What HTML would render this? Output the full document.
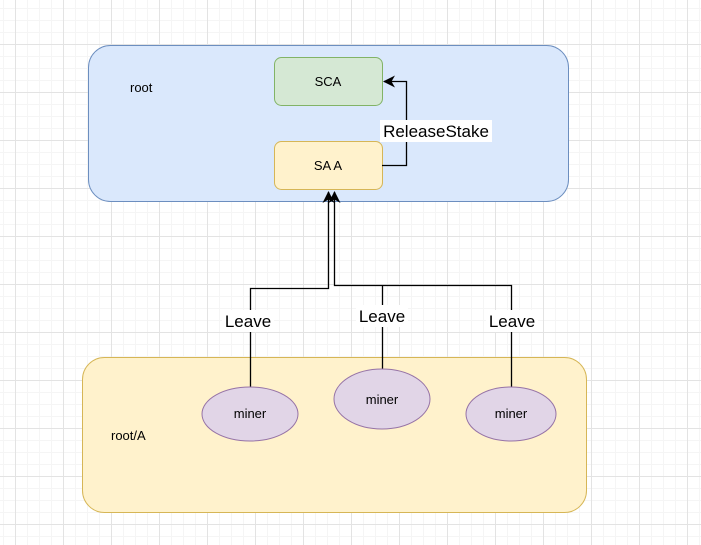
<!DOCTYPE html>
<html><head><style>html,body{margin:0;padding:0;background:#fff}svg{display:block}</style></head>
<body>
<svg width="701" height="545" viewBox="0 0 701 545" xmlns="http://www.w3.org/2000/svg" font-family="Liberation Sans, Arial, sans-serif">
<defs>
<pattern id="minor" width="12" height="12" patternUnits="userSpaceOnUse" x="3" y="8">
<path d="M0 0.5H12M0.5 0V12" stroke="#f5f5f5" stroke-width="1" fill="none"/>
</pattern>
<pattern id="major" width="48" height="48" patternUnits="userSpaceOnUse" x="15" y="44">
<path d="M0 0.5H48M0.5 0V48" stroke="#e3e3e3" stroke-width="1" fill="none"/>
</pattern>
<marker id="ah" markerWidth="12" markerHeight="12" refX="11" refY="6" orient="auto" markerUnits="userSpaceOnUse">
<path d="M0,0 L12,6 L0,12 L3.5,6 Z" fill="#000"/>
</marker>
</defs>
<rect width="701" height="545" fill="url(#minor)"/>
<rect width="701" height="545" fill="url(#major)"/>

<rect x="88.5" y="45.5" width="480" height="156" rx="22" fill="#dae8fc" stroke="#6c8ebf"/>
<text x="130" y="92" font-size="13">root</text>
<rect x="274.5" y="57.5" width="108" height="48" rx="7" fill="#d5e8d4" stroke="#82b366"/>
<text x="328" y="86" font-size="13" text-anchor="middle">SCA</text>
<rect x="274.5" y="141.5" width="108" height="48" rx="7" fill="#fff2cc" stroke="#d6b656"/>
<text x="328" y="170" font-size="13" text-anchor="middle">SA A</text>
<path d="M382 165.5H406.5V81.5H384" fill="none" stroke="#000" stroke-width="1.3" marker-end="url(#ah)"/>
<rect x="380" y="120" width="112" height="22" fill="#fff"/>
<text x="436" y="137" font-size="17" text-anchor="middle">ReleaseStake</text>

<rect x="82.5" y="357.5" width="504" height="155" rx="22" fill="#fff2cc" stroke="#d6b656"/>
<text x="111" y="440" font-size="13">root/A</text>

<path d="M250.5 387V288.5H328.5V192" fill="none" stroke="#000" stroke-width="1.3" marker-end="url(#ah)"/>
<path d="M382.5 369V285.5M511.5 387V285.5H334.5V192" fill="none" stroke="#000" stroke-width="1.3" marker-end="url(#ah)"/>

<rect x="222" y="310" width="52" height="22" fill="#fff"/>
<text x="248" y="327" font-size="17" text-anchor="middle">Leave</text>
<rect x="356" y="305" width="52" height="22" fill="#fff"/>
<text x="382" y="322" font-size="17" text-anchor="middle">Leave</text>
<rect x="486" y="310" width="52" height="22" fill="#fff"/>
<text x="512" y="327" font-size="17" text-anchor="middle">Leave</text>

<ellipse cx="250" cy="414" rx="48" ry="27" fill="#e1d5e7" stroke="#9673a6"/>
<text x="250" y="418" font-size="13" text-anchor="middle">miner</text>
<ellipse cx="382" cy="399" rx="48" ry="30" fill="#e1d5e7" stroke="#9673a6"/>
<text x="382" y="404" font-size="13" text-anchor="middle">miner</text>
<ellipse cx="511" cy="414" rx="45" ry="27" fill="#e1d5e7" stroke="#9673a6"/>
<text x="511" y="418" font-size="13" text-anchor="middle">miner</text>
</svg>
</body></html>
